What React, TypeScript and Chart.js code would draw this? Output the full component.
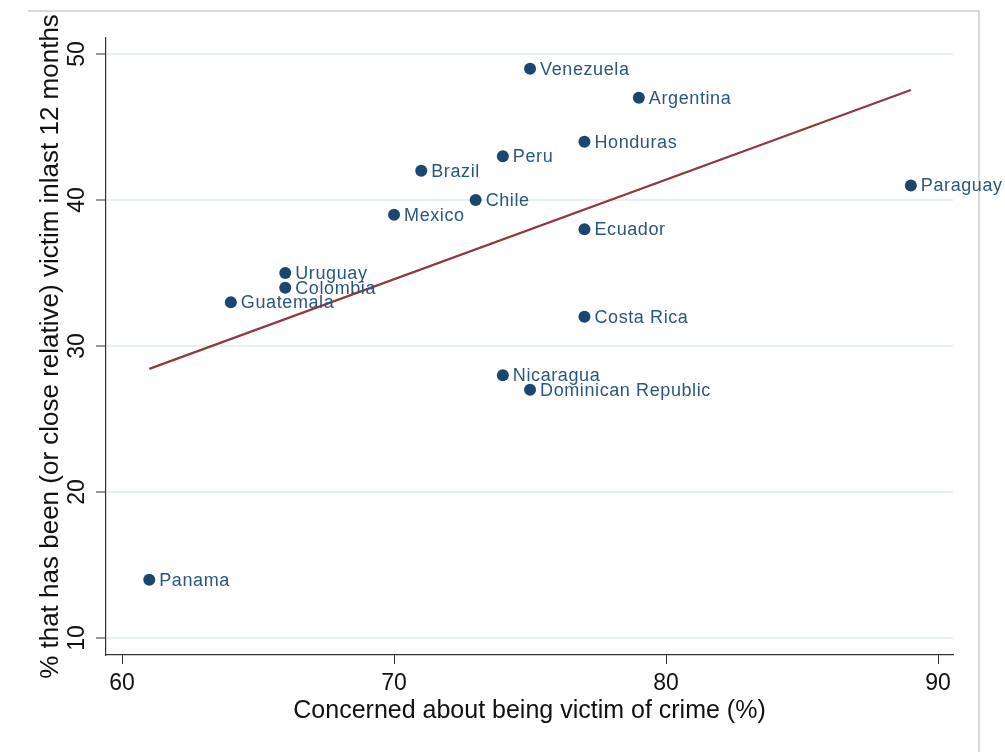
import React, { useEffect, useRef } from "react";
import { Chart, registerables } from "chart.js";

Chart.register(...registerables);

const countries = [
  "Venezuela", "Argentina", "Honduras", "Peru", "Brazil", "Chile", "Mexico", "Paraguay",
  "Ecuador", "Uruguay", "Colombia", "Guatemala", "Costa Rica", "Nicaragua", "Dominican Republic", "Panama",
];
const concerned = [75, 79, 77, 74, 71, 73, 70, 89, 77, 66, 66, 64, 77, 74, 75, 61];
const victim = [49, 47, 44, 43, 42, 40, 39, 41, 38, 35, 34, 33, 32, 28, 27, 14];
const xTicks = [60, 70, 80, 90];
const yTicks = [10, 20, 30, 40, 50];

const xTitle = "Concerned about being victim of crime (%)";
const yTitle = "% that has been (or close relative) victim inlast 12 months";

const FONT = "'Liberation Sans', Arial, Helvetica, sans-serif";

function fitLine(xs: number[], ys: number[]) {
  const n = xs.length;
  const mx = xs.reduce((a, b) => a + b, 0) / n;
  const my = ys.reduce((a, b) => a + b, 0) / n;
  let sxy = 0, sxx = 0;
  for (let i = 0; i < n; i++) {
    sxy += (xs[i] - mx) * (ys[i] - my);
    sxx += (xs[i] - mx) * (xs[i] - mx);
  }
  const b = sxy / sxx;
  const a = my - b * mx;
  const x0 = Math.min(...xs), x1 = Math.max(...xs);
  return [{ x: x0, y: a + b * x0 }, { x: x1, y: a + b * x1 }];
}

const labelPlugin = {
  id: "pointLabels",
  afterDatasetsDraw(chart: any) {
    const meta = chart.getDatasetMeta(1);
    const ctx = chart.ctx;
    ctx.save();
    ctx.font = `18px ${FONT}`;
    (ctx as any).letterSpacing = "0.6px";
    ctx.fillStyle = "#2a5683";
    ctx.textAlign = "left";
    ctx.textBaseline = "middle";
    meta.data.forEach((pt: any, i: number) => {
      ctx.fillText(countries[i], pt.x + 10, pt.y + 1);
    });
    ctx.restore();
  },
};

const framePlugin = {
  id: "frame",
  beforeDraw(chart: any) {
    const ctx = chart.ctx;
    ctx.save();
    ctx.fillStyle = "#ffffff";
    ctx.fillRect(0, 0, chart.width, chart.height);
    ctx.strokeStyle = "#c6cfd3";
    ctx.lineWidth = 1.5;
    ctx.beginPath();
    ctx.moveTo(28, 11);
    ctx.lineTo(979, 11);
    ctx.lineTo(979, chart.height);
    ctx.stroke();
    ctx.restore();
  },
};

export default function App() {
  const ref = useRef<HTMLCanvasElement>(null);
  useEffect(() => {
    document.body.style.margin = "0";
    const points = concerned.map((c, i) => ({ x: c, y: victim[i] }));
    const chart = new Chart(ref.current!, {
      type: "scatter",
      data: {
        datasets: [
          {
            type: "line",
            data: fitLine(concerned, victim),
            borderColor: "#93383e",
            borderWidth: 2.2,
            pointRadius: 0,
            fill: false,
          } as any,
          {
            data: points,
            backgroundColor: "#1a476f",
            borderColor: "#1a476f",
            borderWidth: 0,
            pointRadius: 6,
          },
        ],
      },
      options: {
        responsive: false,
        animation: false,
        events: [],
        layout: { padding: { left: 0, right: 52, top: 38, bottom: 0 } },
        plugins: { legend: { display: false }, tooltip: { enabled: false } },
        scales: {
          x: {
            type: "linear",
            min: 59.41,
            max: 90.55,
            afterBuildTicks: (s: any) => { s.ticks = xTicks.map((v) => ({ value: v })); },
            afterFit: (s: any) => { s.height = 97; },
            ticks: { color: "#111", font: { family: FONT, size: 23 }, padding: 6, maxRotation: 0 },
            grid: { drawOnChartArea: false, drawTicks: true, tickLength: 9, tickColor: "#333", tickWidth: 1 },
            border: { display: true, color: "#333", width: 1.2 },
            title: { display: true, text: xTitle, color: "#111", font: { family: FONT, size: 25 }, padding: { top: 0, bottom: 26 } },
          },
          y: {
            type: "linear",
            min: 8.84,
            max: 51.1,
            afterBuildTicks: (s: any) => { s.ticks = yTicks.map((v) => ({ value: v })); },
            afterFit: (s: any) => { s.width = 106; },
            ticks: { color: "#111", font: { family: FONT, size: 23 }, padding: 6, minRotation: 90, maxRotation: 90, crossAlign: "center" },
            grid: { color: "#e6eff1", lineWidth: 2, drawTicks: true, tickLength: 10, tickColor: "#333", tickWidth: 1 },
            border: { display: true, color: "#333", width: 1.2 },
            title: { display: true, text: yTitle, color: "#111", font: { family: FONT, size: 26 }, padding: { top: 35, bottom: 0 } },
          },
        },
      },
      plugins: [framePlugin, labelPlugin],
    });
    return () => chart.destroy();
  }, []);
  return (
    <div style={{ width: 1005, height: 752 }}>
      <canvas ref={ref} width={1005} height={752} />
    </div>
  );
}
